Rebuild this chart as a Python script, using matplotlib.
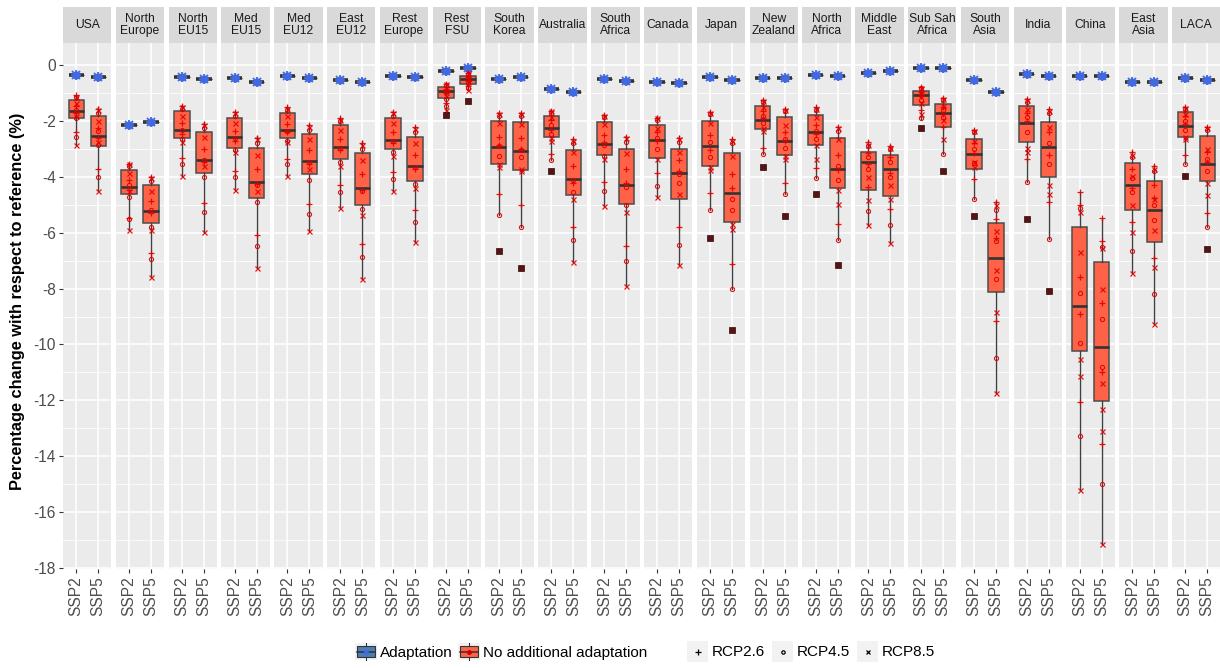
import matplotlib
matplotlib.use("Agg")
import matplotlib.pyplot as plt
import numpy as np
from matplotlib.patches import Rectangle
from matplotlib.lines import Line2D

plt.rcParams['font.family'] = ['Liberation Sans', 'DejaVu Sans']
plt.rcParams['axes.unicode_minus'] = False

nan = np.nan

regions = ["USA", "North\nEurope", "North\nEU15", "Med\nEU15", "Med\nEU12", "East\nEU12",
           "Rest\nEurope", "Rest\nFSU", "South\nKorea", "Australia", "South\nAfrica", "Canada",
           "Japan", "New\nZealand", "North\nAfrica", "Middle\nEast", "Sub Sah\nAfrica",
           "South\nAsia", "India", "China", "East\nAsia", "LACA"]
ssp_labels = ["SSP2", "SSP5"]

# Adaptation (blue) medians
adapt_ssp2 = [-0.34, -2.12, -0.42, -0.47, -0.38, -0.52, -0.39, -0.20, -0.49, -0.85, -0.48,
              -0.61, -0.42, -0.45, -0.34, -0.26, -0.09, -0.52, -0.30, -0.38, -0.60, -0.46]
adapt_ssp5 = [-0.40, -2.03, -0.48, -0.58, -0.45, -0.60, -0.43, -0.10, -0.42, -0.96, -0.55,
              -0.64, -0.54, -0.45, -0.38, -0.20, -0.09, -0.96, -0.38, -0.38, -0.60, -0.52]

# No additional adaptation (red) box statistics, SSP2
noad2_hi = [-1.05, -3.49, -1.42, -1.63, -1.45, -1.85, -1.63, -0.64, -1.68, -1.59, -1.74,
            -1.83, -1.63, -1.21, -1.47, -2.72, -0.76, -2.28, -1.17, -4.54, -3.08, -1.47]
noad2_q3 = [-1.23, -3.76, -1.65, -1.90, -1.70, -2.15, -1.90, -0.78, -2.01, -1.83, -2.04,
            -2.15, -2.01, -1.47, -1.79, -3.10, -0.91, -2.64, -1.47, -5.79, -3.49, -1.68]
noad2_med = [-1.63, -4.35, -2.30, -2.58, -2.30, -2.93, -2.66, -0.92, -2.93, -2.26, -2.82,
             -2.66, -2.90, -1.97, -2.40, -3.47, -1.08, -3.18, -2.07, -8.61, -4.27, -2.18]
noad2_q1 = [-1.89, -4.62, -2.60, -2.96, -2.60, -3.35, -2.99, -1.17, -3.53, -2.57, -3.23,
            -3.32, -3.59, -2.28, -2.85, -4.45, -1.41, -3.71, -2.76, -10.24, -5.18, -2.57]
noad2_lo = [-2.84, -5.90, -3.95, -4.47, -3.95, -5.10, -4.50, -1.59, -5.38, -3.40, -5.04,
            -4.71, -5.18, -3.17, -4.04, -5.73, -1.91, -4.80, -4.18, -15.22, -7.45, -3.52]
noad2_out = [nan, nan, nan, nan, nan, nan, nan, -1.79, -6.66, -3.77, nan,
             nan, -6.20, -3.64, -4.62, nan, -2.24, -5.40, -5.49, nan, nan, -3.95]

# SSP5
noad5_hi = [-1.49, -3.95, -2.03, -2.54, -2.09, -2.72, -2.16, -0.24, -1.68, -2.60, -2.52,
            -2.54, -2.60, -1.53, -2.16, -2.84, -1.14, -4.86, -1.53, -5.46, -3.58, -2.16]
noad5_q3 = [-1.83, -4.29, -2.40, -2.97, -2.47, -3.14, -2.55, -0.38, -2.04, -3.02, -2.99,
            -2.99, -3.14, -1.85, -2.60, -3.23, -1.38, -5.64, -2.04, -7.03, -4.16, -2.54]
noad5_med = [-2.52, -5.23, -3.38, -4.17, -3.43, -4.39, -3.59, -0.48, -3.08, -4.07, -4.30,
             -3.85, -4.59, -2.72, -3.73, -3.73, -1.71, -6.91, -2.93, -10.10, -5.18, -3.54]
noad5_q1 = [-2.90, -5.64, -3.85, -4.77, -3.88, -5.01, -4.13, -0.67, -3.76, -4.66, -4.96,
            -4.80, -5.60, -3.21, -4.41, -4.68, -2.22, -8.11, -3.99, -12.03, -6.32, -4.13]
noad5_lo = [-4.50, -7.60, -5.96, -7.26, -5.93, -7.66, -6.34, -0.87, -5.80, -7.04, -7.92,
            -7.15, -8.02, -4.62, -6.26, -6.38, -3.18, -11.74, -6.21, -17.16, -9.27, -5.80]
noad5_out = [nan, nan, nan, nan, nan, nan, nan, -1.26, -7.26, nan, nan,
             nan, -9.48, -5.40, -7.16, nan, -3.80, nan, -8.10, nan, nan, -6.59]

# Individual model results (No additional adaptation), SSP2
rcp26_ssp2 = [[-1.08, -1.45, -1.72, -2.40], [-3.52, -4.10, -4.45, -5.46], [-1.45, -2.05, -2.45, -3.32],
              [-1.68, -2.35, -2.70, -3.77], [-1.50, -2.10, -2.40, -3.35], [-1.90, -2.65, -3.05, -4.29],
              [-1.68, -2.40, -2.80, -3.82], [-0.66, -0.85, -1.00, -1.35], [-1.72, -2.55, -2.85, -4.61],
              [-1.62, -1.95, -2.30, -3.18], [-1.78, -2.50, -2.75, -4.17], [-1.88, -2.40, -2.70, -3.86],
              [-1.68, -2.50, -3.05, -4.59], [-1.25, -1.65, -1.90, -2.95], [-1.50, -2.15, -2.45, -3.67],
              [-2.75, -3.15, -3.55, -4.35], [-0.78, -0.95, -1.10, -1.60], [-2.32, -2.80, -3.15, -4.09],
              [-1.20, -1.70, -2.00, -3.35], [-4.54, -5.00, -7.60, -8.90, -12.06], [-3.10, -3.70, -4.40, -5.61],
              [-1.50, -1.80, -2.10, -3.23]]
rcp45_ssp2 = [[-1.15, -1.60, -1.90, -2.55], [-3.60, -4.30, -4.70, -5.50], [-1.55, -2.30, -2.65, -3.52],
              [-1.80, -2.60, -3.05, -4.00], [-1.60, -2.35, -2.70, -3.54], [-2.00, -2.95, -3.45, -4.54],
              [-1.80, -2.70, -3.10, -4.07], [-0.70, -0.95, -1.20, -1.45], [-1.80, -2.90, -3.25, -5.38],
              [-1.70, -2.15, -2.45, -3.40], [-1.85, -2.85, -3.25, -4.49], [-1.95, -2.60, -3.00, -4.31],
              [-1.75, -2.75, -3.30, -5.18], [-1.30, -1.80, -2.05, -3.17], [-1.60, -2.35, -2.65, -4.04],
              [-2.90, -3.30, -3.70, -5.22], [-0.82, -1.05, -1.25, -1.90], [-2.40, -3.00, -3.50, -4.80],
              [-1.30, -1.85, -2.40, -4.18], [-5.10, -8.15, -9.95, -13.27], [-3.30, -4.05, -4.55, -6.67],
              [-1.55, -2.00, -2.30, -3.52]]
rcp85_ssp2 = [[-1.12, -1.35, -1.80, -2.84], [-3.55, -3.85, -4.50, -5.90], [-1.50, -1.80, -2.75, -3.95],
              [-1.72, -2.05, -3.10, -4.47], [-1.55, -1.80, -2.75, -3.95], [-1.95, -2.30, -3.60, -5.10],
              [-1.72, -2.05, -3.25, -4.50], [-0.68, -0.80, -1.10, -1.59], [-1.75, -2.05, -3.55, -3.65],
              [-1.65, -1.85, -2.60, -2.70], [-1.80, -2.10, -3.35, -5.04], [-1.90, -2.25, -3.35, -4.71],
              [-1.70, -2.05, -3.65, -3.75], [-1.28, -1.50, -2.25, -2.35], [-1.55, -1.85, -2.85, -3.35],
              [-2.85, -4.00, -4.82, -5.73], [-0.80, -1.00, -1.35, -1.75], [-2.35, -2.70, -3.45, -3.65],
              [-1.25, -1.55, -2.95, -3.10], [-5.25, -6.70, -10.52, -11.14, -15.22], [-3.20, -3.95, -5.00, -5.96, -7.45],
              [-1.52, -1.75, -2.55, -2.65]]

# SSP5
rcp26_ssp5 = [[-1.55, -2.25, -2.60, -3.73], [-4.00, -4.85, -5.30, -6.73], [-2.10, -3.00, -3.45, -4.92],
              [-2.60, -3.70, -4.25, -6.07], [-2.15, -3.05, -3.55, -4.97], [-2.80, -3.90, -4.45, -6.39],
              [-2.22, -3.20, -3.70, -5.20], [-0.26, -0.40, -0.55, -0.75], [-1.72, -2.60, -2.98, -5.00],
              [-2.65, -3.60, -4.20, -5.79], [-2.58, -3.70, -4.20, -6.46], [-2.60, -3.40, -3.80, -5.79],
              [-2.65, -3.90, -4.40, -7.13], [-1.58, -2.40, -2.70, -4.22], [-2.20, -3.20, -3.75, -5.67],
              [-2.88, -3.30, -3.85, -5.16], [-1.18, -1.50, -1.75, -2.20], [-4.90, -5.50, -6.20, -9.17],
              [-1.58, -2.40, -3.20, -4.89], [-5.46, -6.30, -8.50, -11.00, -13.58], [-3.60, -4.30, -4.75, -6.92],
              [-2.20, -3.10, -3.45, -5.28]]
rcp45_ssp5 = [[-1.70, -2.35, -2.85, -4.00], [-4.15, -5.20, -5.80, -6.95], [-2.25, -3.40, -4.00, -5.26],
              [-2.80, -4.30, -4.90, -6.49], [-2.30, -3.45, -4.10, -5.34], [-3.00, -4.50, -5.15, -6.85],
              [-2.40, -3.65, -4.25, -5.61], [-0.30, -0.50, -0.62, -0.80], [-1.80, -3.05, -3.30, -5.80],
              [-2.80, -4.10, -4.55, -6.26], [-2.75, -4.35, -5.00, -7.00], [-2.75, -3.90, -4.20, -6.43],
              [-2.80, -4.80, -5.20, -8.02], [-1.65, -2.65, -2.95, -4.62], [-2.35, -3.60, -4.10, -6.26],
              [-3.00, -3.45, -4.00, -5.72], [-1.25, -1.60, -1.85, -3.18], [-5.20, -6.30, -7.65, -10.48],
              [-1.70, -2.80, -3.55, -6.21], [-6.50, -9.10, -10.80, -14.99], [-3.80, -5.00, -5.55, -8.21],
              [-2.30, -3.35, -3.80, -5.80]]
rcp85_ssp5 = [[-1.60, -2.00, -2.75, -4.50], [-4.05, -4.50, -5.90, -7.60], [-2.15, -2.55, -3.60, -5.96],
              [-2.65, -3.20, -4.50, -7.26], [-2.20, -2.65, -3.70, -5.93], [-2.85, -3.40, -5.35, -7.66],
              [-2.28, -2.80, -4.40, -6.34], [-0.28, -0.45, -0.60, -0.87], [-1.75, -2.10, -3.70, -3.80],
              [-2.70, -3.10, -4.80, -7.04], [-2.62, -3.15, -5.25, -7.92], [-2.65, -3.10, -4.60, -7.15],
              [-2.70, -3.25, -5.70, -5.85], [-1.60, -2.15, -3.25, -3.35], [-2.25, -2.65, -4.45, -4.98],
              [-2.95, -4.30, -4.78, -6.38], [-1.20, -1.45, -1.95, -2.65], [-5.00, -5.95, -7.35, -8.85, -11.74],
              [-1.62, -2.20, -4.30, -4.60], [-6.55, -8.00, -11.40, -12.30, -13.10, -17.16],
              [-3.70, -4.80, -5.90, -7.24, -9.27], [-2.25, -3.00, -4.20, -4.65]]

# ---------------- styling ----------------
W, H = 1220, 668
fig = plt.figure(figsize=(W / 100, H / 100), dpi=100)

left0, pitch, pw = 63.0, 52.81, 48.4
ptop, pbot = 43.3, 568.5
strip_top = 7.0
ylim = (-18.03, 0.79)

RED_FILL = "#FF6347"
BOX_EDGE = "#4D4D4D"
PT_RED = "#E00000"
BLUE_PT = "#4169E1"
OUT_COL = "#5A1212"

def fx(x):
    return x / W

def fy(y):
    return 1 - y / H

rcp_markers = [("+", 4.6, 0.9, "full"), ("o", 3.0, 0.8, "none"), ("x", 3.6, 0.9, "full")]

for i, reg in enumerate(regions):
    x0 = left0 + i * pitch
    ax = fig.add_axes([fx(x0), fy(pbot), pw / W, (pbot - ptop) / H])
    ax.set_facecolor("#EBEBEB")
    for s in ax.spines.values():
        s.set_visible(False)

    # adaptation (blue) boxes
    bstats = []
    for m in (adapt_ssp2[i], adapt_ssp5[i]):
        bstats.append(dict(med=m, q1=m, q3=m, whislo=m, whishi=m, fliers=[]))
    ax.bxp(bstats, positions=[1, 2], widths=0.7, showcaps=False, showfliers=False,
           patch_artist=True, manage_ticks=False,
           boxprops=dict(facecolor="#4682B4", edgecolor="#333333", lw=0.8),
           medianprops=dict(color="#333333", lw=2.6, solid_capstyle="butt"),
           whiskerprops=dict(color="#333333", lw=0.8))
    for pos, m in ((1, adapt_ssp2[i]), (2, adapt_ssp5[i])):
        ax.plot([pos], [m], marker="o", ms=4.0, color=BLUE_PT, mec=BLUE_PT, zorder=5)
        for mk, ms, mew, fs in rcp_markers:
            ax.plot([pos], [m], marker=mk, ms=ms * 1.5, mew=1.3, color=BLUE_PT,
                    fillstyle=fs, zorder=5, ls="none")

    # no additional adaptation (red) boxes
    rstats = [dict(med=noad2_med[i], q1=noad2_q1[i], q3=noad2_q3[i],
                   whislo=noad2_lo[i], whishi=noad2_hi[i], fliers=[]),
              dict(med=noad5_med[i], q1=noad5_q1[i], q3=noad5_q3[i],
                   whislo=noad5_lo[i], whishi=noad5_hi[i], fliers=[])]
    ax.bxp(rstats, positions=[1, 2], widths=0.7, showcaps=False, showfliers=False,
           patch_artist=True, manage_ticks=False,
           boxprops=dict(facecolor=RED_FILL, edgecolor=BOX_EDGE, lw=1.1),
           medianprops=dict(color="#333333", lw=1.9, solid_capstyle="butt"),
           whiskerprops=dict(color="#404040", lw=1.0))

    # individual points
    for pos, groups in ((1, (rcp26_ssp2[i], rcp45_ssp2[i], rcp85_ssp2[i])),
                        (2, (rcp26_ssp5[i], rcp45_ssp5[i], rcp85_ssp5[i]))):
        for vals, (mk, ms, mew, fs) in zip(groups, rcp_markers):
            ax.plot(np.full(len(vals), pos), vals, ls="none", marker=mk, ms=ms, mew=mew,
                    color=PT_RED, fillstyle=fs, alpha=0.9, zorder=6)
    for pos, o in ((1, noad2_out[i]), (2, noad5_out[i])):
        if not np.isnan(o):
            ax.plot([pos], [o], ls="none", marker="s", ms=4.0, color=OUT_COL,
                    mec="#2a0a0a", mew=0.5, zorder=7)

    # axes, ticks, grid
    ax.set_xlim(0.4, 2.6)
    ax.set_ylim(*ylim)
    ax.set_yticks(np.arange(-18, 1, 2))
    ax.set_yticks(np.arange(-17, 1, 2), minor=True)
    ax.set_xticks([1, 2])
    ax.set_xticks([], minor=True)
    ax.set_xticklabels(ssp_labels, rotation=90, fontsize=11.2, color="#4D4D4D")
    ax.grid(True, which="major", color="white", lw=1.1, zorder=0)
    ax.grid(True, which="minor", axis="y", color="white", lw=0.55, zorder=0)
    ax.set_axisbelow(True)
    ax.tick_params(axis="x", length=3, width=0.8, color="#333333", pad=2.5)
    ax.tick_params(axis="y", which="minor", length=0)
    if i == 0:
        ax.tick_params(axis="y", which="major", length=3, width=0.8, color="#333333",
                       labelsize=11.2, labelcolor="#4D4D4D", pad=2)
        ax.set_yticklabels([str(v) for v in range(-18, 1, 2)])
    else:
        ax.tick_params(axis="y", which="major", length=0, labelleft=False)

    # strip
    sh = (ptop - strip_top) / (pbot - ptop)
    ax.add_patch(Rectangle((0, 1), 1, sh, transform=ax.transAxes, facecolor="#D9D9D9",
                           edgecolor="none", clip_on=False, zorder=1))
    ax.text(0.5, 1 + sh / 2, reg, transform=ax.transAxes, ha="center", va="center",
            fontsize=8.7, color="#1A1A1A", linespacing=1.05)

# y label
fig.text(fx(18), fy((ptop + pbot) / 2 - 5), "Percentage change with respect to reference (%)",
         rotation=90, ha="center", va="center", fontsize=11.8, fontweight="bold", color="black")

# ---------------- legend ----------------
def add_box_key(xl, xr, fill, dot):
    yt, yb = 643.0, 660.0
    fig.add_artist(Rectangle((fx(xl - 2), fy(yb)), (xr - xl + 4) / W, (yb - yt) / H,
                             transform=fig.transFigure, facecolor="#F2F2F2", edgecolor="none"))
    fig.add_artist(Rectangle((fx(xl), fy(657)), (xr - xl) / W, 11 / H,
                             transform=fig.transFigure, facecolor=fill, edgecolor="#333333", lw=0.8))
    xc = (xl + xr) / 2
    fig.add_artist(Line2D([fx(xc), fx(xc)], [fy(643), fy(646)], transform=fig.transFigure,
                          color="#333333", lw=0.8))
    fig.add_artist(Line2D([fx(xc), fx(xc)], [fy(657), fy(660)], transform=fig.transFigure,
                          color="#333333", lw=0.8))
    fig.add_artist(Line2D([fx(xl), fx(xr)], [fy(651.5), fy(651.5)], transform=fig.transFigure,
                          color="#333333", lw=1.1))
    fig.add_artist(Line2D([fx(xc)], [fy(651.5)], transform=fig.transFigure, marker="o",
                          ms=2.5, color=dot, ls="none"))

add_box_key(357, 375, "#4A7DB8", BLUE_PT)
fig.text(fx(380), fy(652.5), "Adaptation", ha="left", va="center", fontsize=11, color="black")
add_box_key(460, 478, RED_FILL, "#CC0000")
fig.text(fx(483), fy(652.5), "No additional adaptation", ha="left", va="center", fontsize=11,
         color="black")

rcp_keys = [(687, "RCP2.6", "+", 5.0), (772, "RCP4.5", "o", 2.4), (857, "RCP8.5", "x", 3.0)]
for xk, lab, mk, ms in rcp_keys:
    fig.add_artist(Rectangle((fx(xk), fy(662)), 21 / W, 21 / H, transform=fig.transFigure,
                             facecolor="#F2F2F2", edgecolor="none"))
    fig.add_artist(Line2D([fx(xk + 10.5)], [fy(651.5)], transform=fig.transFigure, marker=mk,
                          ms=ms, mew=0.9, color="black", fillstyle="none", ls="none"))
    fig.text(fx(xk + 25), fy(652.5), lab, ha="left", va="center", fontsize=11, color="black")

fig.savefig("out.png", dpi=100, facecolor="white")
